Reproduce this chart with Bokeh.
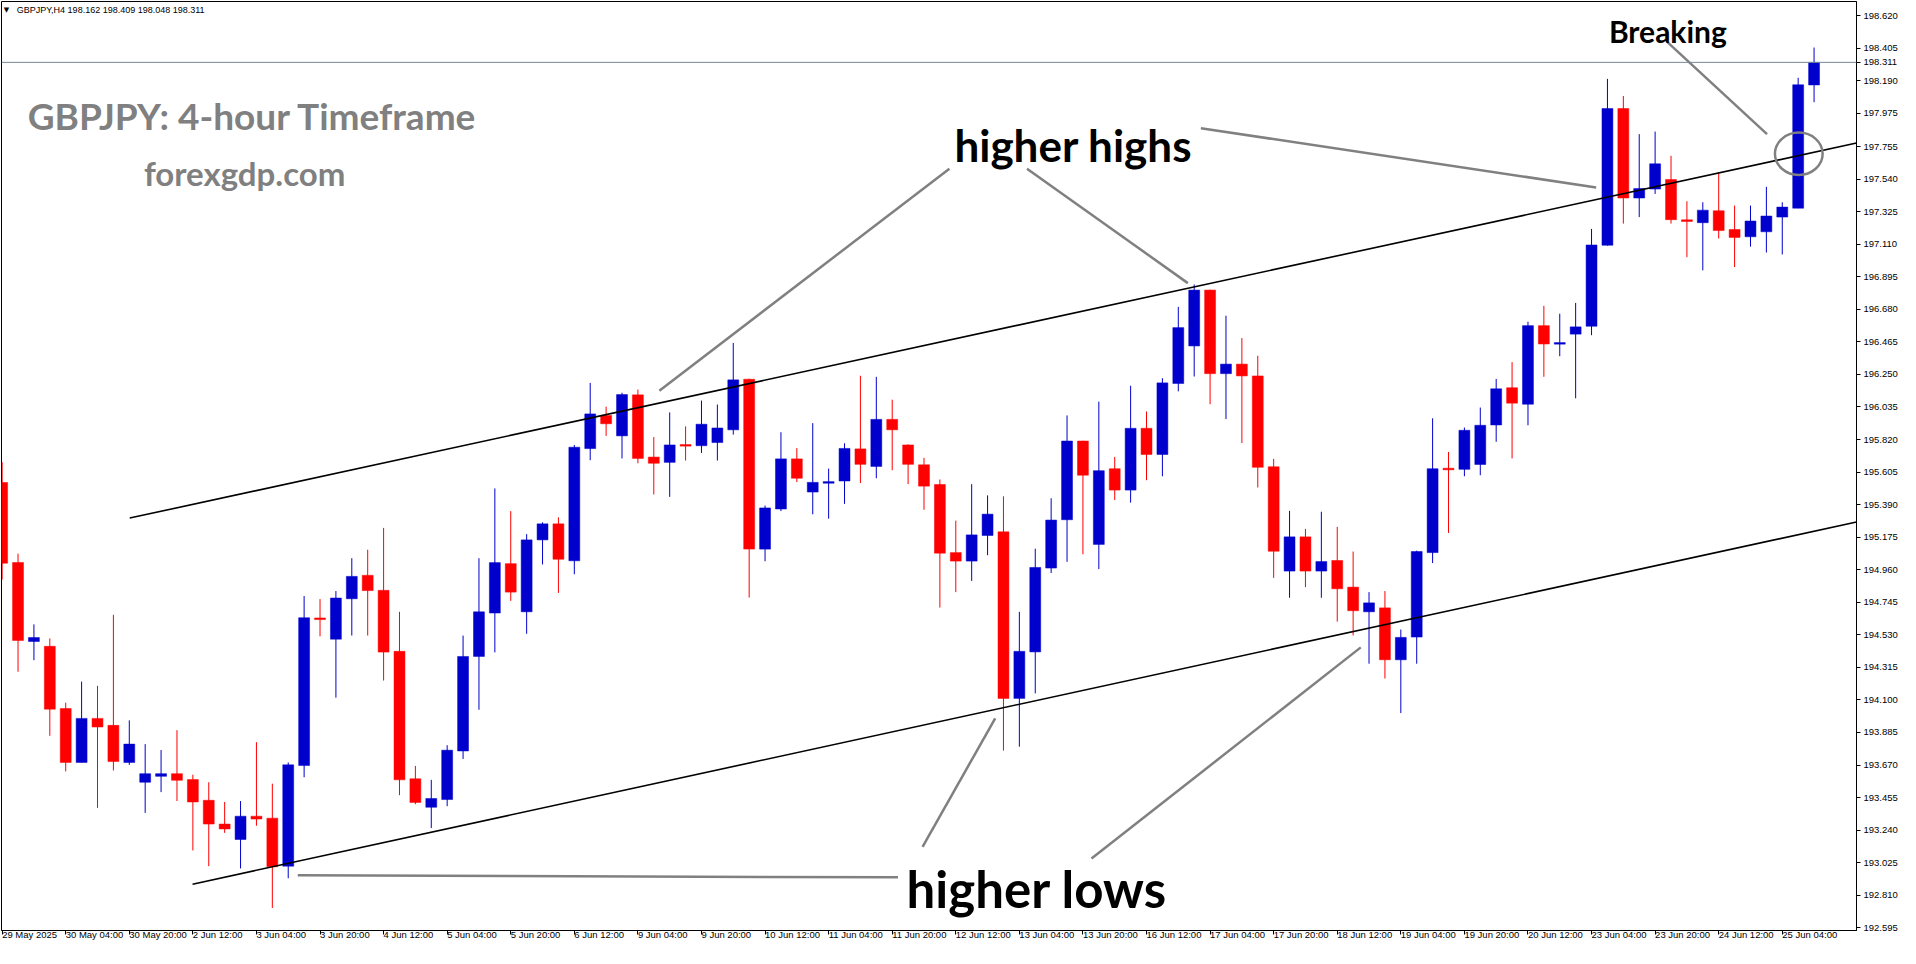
import numpy as np
from bokeh.plotting import figure
from bokeh.models import ColumnDataSource, Range1d, FixedTicker, PrintfTickFormatter, Label, Span
from bokeh.embed import file_html
from bokeh.resources import INLINE

# ---------------- data (GBPJPY H4, 29 May 2025 12:00 -> 25 Jun 2025 12:00) ----------------
opens = [195.536, 195.008, 194.486, 194.454, 194.043, 193.687, 193.978, 193.932, 193.687, 193.556,
         193.595, 193.613, 193.574, 193.437, 193.280, 193.178, 193.332, 193.319, 193.002, 193.667,
         194.641, 194.501, 194.768, 194.923, 194.824, 194.421, 193.579, 193.391, 193.442, 193.763,
         194.387, 194.674, 195.000, 194.682, 195.157, 195.263, 195.019, 195.760, 195.979, 195.844,
         196.115, 195.704, 195.669, 195.784, 195.779, 195.800, 195.884, 196.218, 195.096, 195.361,
         195.692, 195.473, 195.532, 195.546, 195.758, 195.642, 195.953, 195.784, 195.653, 195.523,
         195.073, 195.017, 195.186, 195.210, 194.110, 194.417, 194.971, 195.290, 195.810, 195.127,
         195.627, 195.486, 195.894, 195.721, 196.190, 196.438, 196.807, 196.255, 196.318, 196.240,
         195.640, 194.951, 195.177, 194.951, 195.021, 194.845, 194.682, 194.708, 194.365, 194.515,
         195.073, 195.627, 195.623, 195.655, 195.916, 196.162, 196.053, 196.572, 196.453, 196.516,
         196.568, 197.103, 198.006, 197.415, 197.474, 197.537, 197.270, 197.252, 197.331, 197.207,
         197.159, 197.192, 197.289, 197.348, 198.162]
highs = [195.670, 195.066, 194.599, 194.506, 194.082, 194.221, 194.193, 194.662, 193.965, 193.808,
         193.769, 193.900, 193.606, 193.556, 193.426, 193.432, 193.821, 193.547, 193.687, 194.786,
         194.766, 194.819, 195.036, 195.092, 195.236, 194.682, 193.664, 193.572, 193.801, 194.525,
         195.036, 195.497, 195.347, 195.195, 195.273, 195.306, 195.784, 196.194, 196.037, 196.129,
         196.150, 195.836, 195.999, 195.907, 196.077, 196.051, 196.458, 196.222, 195.384, 195.868,
         195.763, 195.928, 195.628, 195.795, 196.241, 196.234, 196.083, 195.788, 195.699, 195.556,
         195.284, 195.525, 195.451, 195.445, 194.682, 195.099, 195.432, 195.979, 195.812, 196.070,
         195.705, 196.175, 196.005, 196.225, 196.696, 196.844, 196.810, 196.638, 196.490, 196.373,
         195.692, 195.349, 195.230, 195.343, 195.243, 195.080, 194.812, 194.819, 194.565, 195.086,
         195.960, 195.738, 195.899, 196.031, 196.220, 196.331, 196.598, 196.703, 196.651, 196.722,
         197.211, 198.202, 198.089, 197.837, 197.854, 197.694, 197.394, 197.387, 197.583, 197.365,
         197.365, 197.489, 197.387, 198.209, 198.409]
lows = [194.895, 194.286, 194.362, 193.863, 193.628, 193.687, 193.387, 193.634, 193.671, 193.354,
        193.491, 193.432, 193.106, 193.002, 193.222, 192.987, 193.269, 192.726, 192.922, 193.589,
        194.520, 194.115, 194.525, 194.525, 194.228, 193.471, 193.411, 193.254, 193.398, 193.710,
        194.035, 194.414, 194.754, 194.537, 194.995, 194.807, 194.930, 195.683, 195.844, 195.695,
        195.663, 195.457, 195.441, 195.681, 195.731, 195.681, 195.852, 194.776, 195.016, 195.347,
        195.539, 195.326, 195.297, 195.395, 195.532, 195.564, 195.617, 195.525, 195.356, 194.710,
        194.812, 194.886, 195.056, 193.765, 193.791, 194.143, 194.938, 195.012, 195.062, 194.964,
        195.421, 195.403, 195.551, 195.577, 196.138, 196.236, 196.053, 195.955, 195.797, 195.503,
        194.906, 194.775, 194.845, 194.775, 194.617, 194.526, 194.339, 194.241, 194.013, 194.339,
        195.004, 195.203, 195.577, 195.584, 195.805, 195.695, 195.914, 196.234, 196.370, 196.092,
        196.509, 197.100, 197.246, 197.289, 197.442, 197.246, 197.024, 196.937, 197.148, 196.959,
        197.094, 197.055, 197.042, 197.348, 198.048]
closes = [195.003, 194.493, 194.512, 194.039, 193.687, 193.978, 193.921, 193.693, 193.808, 193.613,
          193.613, 193.569, 193.426, 193.280, 193.248, 193.332, 193.313, 192.998, 193.671, 194.643,
          194.631, 194.773, 194.916, 194.822, 194.416, 193.572, 193.423, 193.449, 193.768, 194.387,
          194.682, 195.007, 194.812, 195.157, 195.263, 195.029, 195.769, 195.989, 195.924, 196.117,
          195.695, 195.663, 195.784, 195.779, 195.921, 195.896, 196.214, 195.096, 195.368, 195.692,
          195.564, 195.537, 195.541, 195.761, 195.656, 195.953, 195.884, 195.656, 195.512, 195.069,
          195.017, 195.190, 195.327, 194.110, 194.421, 194.975, 195.288, 195.810, 195.584, 195.614,
          195.486, 195.894, 195.721, 196.194, 196.559, 196.807, 196.255, 196.318, 196.240, 195.636,
          195.082, 195.177, 194.951, 195.014, 194.834, 194.689, 194.741, 194.365, 194.513, 195.080,
          195.627, 195.623, 195.881, 195.914, 196.155, 196.060, 196.572, 196.451, 196.457, 196.564,
          197.105, 198.006, 197.415, 197.478, 197.641, 197.272, 197.261, 197.335, 197.200, 197.155,
          197.263, 197.296, 197.355, 198.163, 198.311]

x_tick_labels = ["29 May 2025", "30 May 04:00", "30 May 20:00", "2 Jun 12:00", "3 Jun 04:00",
                 "3 Jun 20:00", "4 Jun 12:00", "5 Jun 04:00", "5 Jun 20:00", "6 Jun 12:00",
                 "9 Jun 04:00", "9 Jun 20:00", "10 Jun 12:00", "11 Jun 04:00", "11 Jun 20:00",
                 "12 Jun 12:00", "13 Jun 04:00", "13 Jun 20:00", "16 Jun 12:00", "17 Jun 04:00",
                 "17 Jun 20:00", "18 Jun 12:00", "19 Jun 04:00", "19 Jun 20:00", "20 Jun 12:00",
                 "23 Jun 04:00", "23 Jun 20:00", "24 Jun 12:00", "25 Jun 04:00"]
bars_per_label = 4

price_ticks = [198.620, 198.405, 198.190, 197.975, 197.755, 197.540, 197.325, 197.110, 196.895,
               196.680, 196.465, 196.250, 196.035, 195.820, 195.605, 195.390, 195.175, 194.960,
               194.745, 194.530, 194.315, 194.100, 193.885, 193.670, 193.455, 193.240, 193.025,
               192.810, 192.595]

last_price = 198.311
header_text = "GBPJPY,H4  198.162 198.409 198.048 198.311"

# channel trend lines (bar index, price)
upper_x = [8.025, 116.67]
upper_y = [195.301, 197.778]
lower_x = [11.98, 116.67]
lower_y = [192.883, 195.275]

# pointer lines of the annotations (bar index, price)
ptr_x0 = [59.6, 64.48, 75.42, 104.79, 57.91, 68.54, 56.36]
ptr_y0 = [197.609, 197.609, 197.876, 198.443, 193.130, 193.052, 192.928]
ptr_x1 = [41.35, 74.6, 100.29, 111.04, 62.48, 85.48, 18.6]
ptr_y1 = [196.142, 196.853, 197.485, 197.837, 193.978, 194.447, 192.942]
circle_x, circle_y = 113.04, 197.707

# ---------------- figure ----------------
W, H = 1900, 948
X0, X1 = -0.04, 116.67
Y0, Y1 = 192.577, 198.713

p = figure(width=W, height=H, output_backend="svg", toolbar_location=None,
           x_range=Range1d(X0, X1), y_range=Range1d(Y0, Y1),
           y_axis_location="right", min_border_left=1, min_border_top=1,
           min_border_right=40, min_border_bottom=0)
p.background_fill_color = "white"
p.border_fill_color = "white"
p.outline_line_color = "black"
p.outline_line_width = 1
p.xgrid.visible = False
p.ygrid.visible = False

frame_h = H - 1 - 17
px_per_unit = frame_h / (Y1 - Y0)

o = np.array(opens); h = np.array(highs); l = np.array(lows); c = np.array(closes)
idx = np.arange(len(o))
bull = c >= o
colors = np.where(bull, "#0000CD", "#FF0000")
top = np.maximum(o, c)
bot = np.minimum(o, c)
min_h = 1.6 / px_per_unit
small = (top - bot) < min_h
mid = (top + bot) / 2
top = np.where(small, mid + min_h / 2, top)
bot = np.where(small, mid - min_h / 2, bot)

src = ColumnDataSource(dict(x=idx, o=o, h=h, l=l, c=c, top=top, bot=bot, color=colors))
p.segment(x0="x", y0="l", x1="x", y1="h", line_color="color", line_width=1, source=src)
p.vbar(x="x", width=0.6875, top="top", bottom="bot", fill_color="color", line_color="color",
       line_width=0.5, source=src)

# current price line
p.add_layout(Span(location=last_price, dimension="width", line_color="#778899", line_width=1))

# channel lines
p.line(upper_x, upper_y, line_color="black", line_width=1.6)
p.line(lower_x, lower_y, line_color="black", line_width=1.6)

# annotation pointers
p.segment(x0=ptr_x0, y0=ptr_y0, x1=ptr_x1, y1=ptr_y1, line_color="#808080", line_width=2.5)
p.ellipse(x=[circle_x], y=[circle_y], width=[3.0], height=[0.28], fill_color=None,
          line_color="#808080", line_width=2.5)

# price axis (right)
yax = p.yaxis[0]
yax.ticker = FixedTicker(ticks=sorted(price_ticks + [last_price]))
yax.formatter = PrintfTickFormatter(format="%.3f")
yax.major_tick_out = 4
yax.major_tick_in = 0
yax.minor_tick_out = 0
yax.minor_tick_in = 0
yax.axis_line_color = "black"
yax.major_tick_line_color = "black"
yax.major_label_text_font = "Liberation Sans"
yax.major_label_text_font_size = "9.5px"
yax.major_label_text_color = "black"
yax.major_label_standoff = 3
yax.axis_label = None
yax.axis_label_standoff = 0
yax.axis_label_text_font_size = "1px"

# time axis (bottom): labels start at their tick, as in MetaTrader
xax = p.xaxis[0]
tick_pos = [bars_per_label * k for k in range(len(x_tick_labels))]
xax.ticker = FixedTicker(ticks=tick_pos)
xax.major_label_overrides = {pos: lab for pos, lab in zip(tick_pos, x_tick_labels)}
xax.major_label_orientation = -1e-9
xax.major_tick_out = 4
xax.major_tick_in = 0
xax.minor_tick_out = 0
xax.minor_tick_in = 0
xax.axis_line_color = "black"
xax.major_tick_line_color = "black"
xax.major_label_text_font = "Liberation Sans"
xax.major_label_text_font_size = "9.5px"
xax.major_label_text_color = "black"
xax.major_label_standoff = 0
xax.axis_label = None
xax.axis_label_standoff = 0
xax.axis_label_text_font_size = "1px"

# header
p.add_layout(Label(x=0.1, y=198.656, text="\u25bc", text_align="left", text_baseline="middle",
                   text_font="DejaVu Sans", text_font_size="7px", text_color="black"))
p.add_layout(Label(x=0.92, y=198.654, text=header_text, text_align="left", text_baseline="middle",
                   text_font="Liberation Sans", text_font_size="9px", text_color="black"))

# titles / annotations text
def txt(x, y, s, size, color, align="left"):
    p.add_layout(Label(x=x, y=y, text=s, text_align=align, text_baseline="alphabetic",
                       text_font="Lato", text_font_style="bold", text_font_size=size,
                       text_color=color))

txt(1.61, 197.961, "GBPJPY: 4-hour Timeframe", "37px", "#808080")
txt(8.92, 197.583, "forexgdp.com", "33px", "#808080")
txt(67.4, 197.765, "higher highs", "44px", "black", "center")
txt(65.1, 192.857, "higher lows", "51px", "black", "center")
txt(104.8, 198.515, "Breaking", "30px", "black", "center")

open("out.html", "w").write(file_html(p, INLINE))
